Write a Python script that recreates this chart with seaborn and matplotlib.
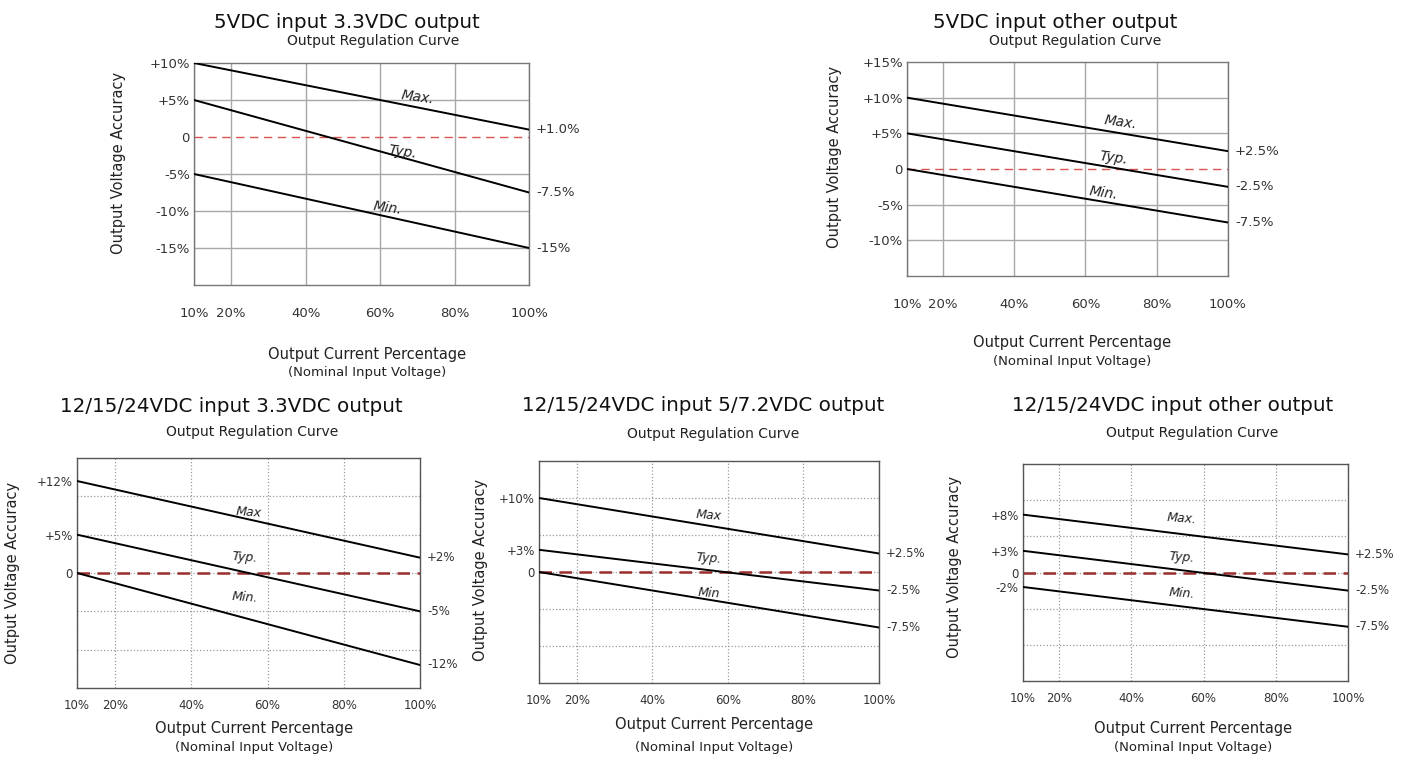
import numpy as np
import pandas as pd
import seaborn as sns
import matplotlib.pyplot as plt
from matplotlib.ticker import FixedLocator

W, H = 1403, 762

# shared x axis (output current %)
load_pct = [10, 100]
x_ticks = [10, 20, 40, 60, 80, 100]
x_ticklabels = ['10%', '20%', '40%', '60%', '80%', '100%']
curve_names = ['Max.', 'Typ.', 'Min.']

# 5VDC input 3.3VDC output
a_max = [10, 1.0]
a_typ = [5, -7.5]
a_min = [-5, -15]
a_yticks = [10, 5, 0, -5, -10, -15]
a_ylabels = ['+10%', '+5%', '0', '-5%', '-10%', '-15%']
a_ends = ['+1.0%', '-7.5%', '-15%']

# 5VDC input other output
b_max = [10, 2.5]
b_typ = [5, -2.5]
b_min = [0, -7.5]
b_yticks = [15, 10, 5, 0, -5, -10]
b_ylabels = ['+15%', '+10%', '+5%', '0', '-5%', '-10%']
b_ends = ['+2.5%', '-2.5%', '-7.5%']

# 12/15/24VDC input 3.3VDC output
c_max = [12, 2]
c_typ = [5, -5]
c_min = [0, -12]
c_yticks = [12, 5, 0]
c_ylabels = ['+12%', '+5%', '0']
c_ends = ['+2%', '-5%', '-12%']

# 12/15/24VDC input 5/7.2VDC output
d_max = [10, 2.5]
d_typ = [3, -2.5]
d_min = [0, -7.5]
d_yticks = [10, 3, 0]
d_ylabels = ['+10%', '+3%', '0']
d_ends = ['+2.5%', '-2.5%', '-7.5%']

# 12/15/24VDC input other output
e_max = [8, 2.5]
e_typ = [3, -2.5]
e_min = [-2, -7.5]
e_yticks = [8, 3, 0, -2]
e_ylabels = ['+8%', '+3%', '0', '-2%']
e_ends = ['+2.5%', '-2.5%', '-7.5%']

sns.set_style('white')
plt.rcParams['font.family'] = ['DejaVu Sans']

fig = plt.figure(figsize=(W / 100, H / 100), dpi=100)


def box(l, t, r, b):
    return [l / W, 1 - b / H, (r - l) / W, (b - t) / H]


def ftext(x, y, s, **kw):
    fig.text(x / W, 1 - y / H, s, ha='center', va='center', **kw)


def panel(rect, maxv, typv, minv, ylim, yticks, ylabels, ygrid, ends,
          name_pos, names, top):
    ax = fig.add_axes(box(*rect))
    df = pd.DataFrame({'load': load_pct * 3,
                       'acc': maxv + typv + minv,
                       'curve': [n for n in curve_names for _ in load_pct]})
    sns.lineplot(data=df, x='load', y='acc', hue='curve',
                 palette=['black'] * 3, legend=False, lw=1.4, ax=ax, zorder=3)
    ax.set_xlim(10, 100)
    ax.set_ylim(*ylim)
    ax.set_xticks(x_ticks)
    ax.set_xticklabels(x_ticklabels)
    ax.set_yticks(yticks)
    ax.set_yticklabels(ylabels)
    ax.yaxis.remove_overlapping_locs = False
    ax.yaxis.set_minor_locator(FixedLocator(ygrid))
    ax.set_xlabel('')
    ax.set_ylabel('')
    if top:
        gkw = dict(color='#a8a8a8', lw=1.0, ls='-')
        fs = 9.5
        xpad = 16
        zkw = dict(color='#d9534f', lw=1.0, ls=(0, (6, 4)))
        spine_col = '#777777'
    else:
        gkw = dict(color='#9a9a9a', lw=0.9, ls=':')
        fs = 8.5
        xpad = 8
        zkw = dict(color='#9b2d2d', lw=1.8, ls=(0, (5, 3)))
        spine_col = '#555555'
    ax.grid(axis='x', which='major', **gkw)
    ax.grid(axis='y', which='minor', **gkw)
    ax.grid(axis='y', which='major', visible=False)
    ax.axhline(0, zorder=2, **zkw)
    ax.tick_params(which='both', length=0)
    ax.tick_params(axis='y', pad=3, labelsize=fs, labelcolor='#333333')
    ax.tick_params(axis='x', pad=xpad, labelsize=fs, labelcolor='#333333')
    for sp in ax.spines.values():
        sp.set_color(spine_col)
        sp.set_linewidth(1.0)
    for vals, s in zip([maxv, typv, minv], ends):
        ax.annotate(s, xy=(load_pct[-1], vals[-1]), xytext=(5, 0),
                    textcoords='offset points', ha='left', va='center',
                    fontsize=fs, color='#333333', annotation_clip=False)
    rot = -8 if top else -4
    for (x, y), s in zip(name_pos, names):
        ax.text(x, y, s, style='italic', fontsize=fs + 0.5, rotation=rot,
                ha='center', va='center', color='#222222')
    return ax


# top charts: grid line at 0 is replaced by the red dashed line
panel((194, 63, 529, 285), a_max, a_typ, a_min, (-20, 10), a_yticks, a_ylabels,
      [5, -5, -10, -15], a_ends,
      [(70, 5.4), (66, -2.0), (62, -9.6)], ['Max.', 'Typ.', 'Min.'], True)
panel((907, 62, 1228, 276), b_max, b_typ, b_min, (-15, 15), b_yticks, b_ylabels,
      [10, 5, -5, -10], b_ends,
      [(70, 6.6), (68, 1.5), (65, -3.4)], ['Max.', 'Typ.', 'Min.'], True)
panel((77, 458, 420, 688), c_max, c_typ, c_min, (-15, 15), c_yticks, c_ylabels,
      [10, 5, 0, -5, -10], c_ends,
      [(55, 7.9), (54, 2.0), (54, -3.2)], ['Max', 'Typ.', 'Min.'], False)
panel((539, 461, 879, 683), d_max, d_typ, d_min, (-15, 15), d_yticks, d_ylabels,
      [10, 5, 0, -5, -10], d_ends,
      [(55, 7.7), (55, 1.9), (55, -2.9)], ['Max', 'Typ.', 'Min'], False)
panel((1023, 464, 1348, 681), e_max, e_typ, e_min, (-15, 15), e_yticks, e_ylabels,
      [10, 5, 0, -5, -10], e_ends,
      [(54, 7.4), (54, 2.1), (54, -2.9)], ['Max.', 'Typ.', 'Min.'], False)

# titles and axis labels
titles = [
    ((347, 22), (373, 41), '5VDC input 3.3VDC output'),
    ((1055, 22), (1075, 41), '5VDC input other output'),
    ((231, 407), (252, 432), '12/15/24VDC input 3.3VDC output'),
    ((703, 405), (713, 434), '12/15/24VDC input 5/7.2VDC output'),
    ((1173, 405), (1192, 433), '12/15/24VDC input other output'),
]
for (tx, ty), (sx, sy), t in titles:
    ftext(tx, ty, t, fontsize=14.3, color='#111111')
    ftext(sx, sy, 'Output Regulation Curve', fontsize=10, color='#222222')

ylabels_pos = [(118, 163), (835, 157), (13, 573), (480, 570), (955, 567)]
for x, y in ylabels_pos:
    ftext(x, y, 'Output Voltage Accuracy', fontsize=10.5, rotation=90, color='#222222')

xlabels_pos = [(367, 355, 373), (1072, 343, 362), (254, 728, 747),
               (714, 725, 747), (1193, 728, 748)]
for x, y1, y2 in xlabels_pos:
    ftext(x, y1, 'Output Current Percentage', fontsize=10.5, color='#222222')
    ftext(x, y2, '(Nominal Input Voltage)', fontsize=9.5, color='#222222')

fig.savefig('out.png', dpi=100)
